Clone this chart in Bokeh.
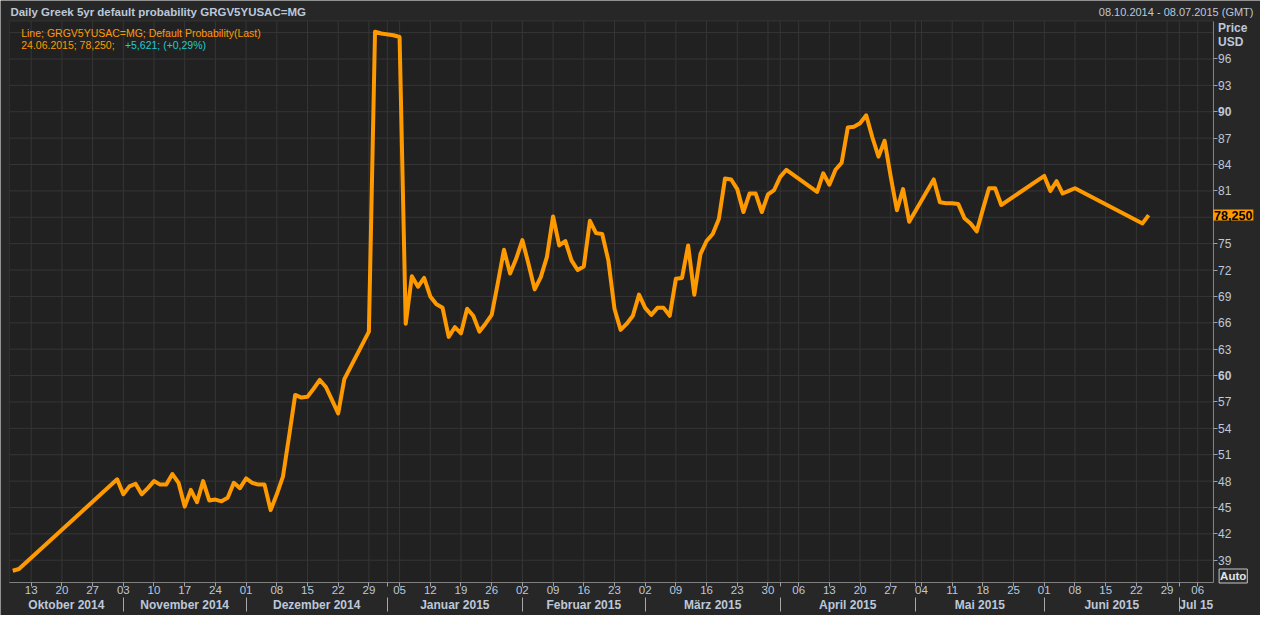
import numpy as np
import pandas as pd
from bokeh.plotting import figure
from bokeh.models import FixedTicker, Label, Range1d, LinearAxis, BoxAnnotation
from bokeh.embed import file_html
from bokeh.resources import INLINE

# ---------------- data ----------------
dates = [
    "2014-10-08", "2014-10-09", "2014-10-31",
    "2014-11-03", "2014-11-04", "2014-11-05", "2014-11-06", "2014-11-07",
    "2014-11-10", "2014-11-11", "2014-11-12", "2014-11-13", "2014-11-14",
    "2014-11-17", "2014-11-18", "2014-11-19", "2014-11-20", "2014-11-21",
    "2014-11-24", "2014-11-25", "2014-11-26", "2014-11-27", "2014-11-28",
    "2014-12-01", "2014-12-02", "2014-12-03", "2014-12-04", "2014-12-05",
    "2014-12-08", "2014-12-09", "2014-12-10", "2014-12-11", "2014-12-12",
    "2014-12-15", "2014-12-16", "2014-12-17", "2014-12-18", "2014-12-19",
    "2014-12-22", "2014-12-23", "2014-12-29", "2014-12-30", "2014-12-31",
    "2015-01-02", "2015-01-05", "2015-01-06", "2015-01-07", "2015-01-08",
    "2015-01-09", "2015-01-12", "2015-01-13", "2015-01-14", "2015-01-15",
    "2015-01-16", "2015-01-19", "2015-01-20", "2015-01-21", "2015-01-22",
    "2015-01-23", "2015-01-26", "2015-01-27", "2015-01-28", "2015-01-29",
    "2015-01-30", "2015-02-02", "2015-02-03", "2015-02-04", "2015-02-05",
    "2015-02-06", "2015-02-09", "2015-02-10", "2015-02-11", "2015-02-12",
    "2015-02-13", "2015-02-16", "2015-02-17", "2015-02-18", "2015-02-19",
    "2015-02-20", "2015-02-23", "2015-02-24", "2015-02-25", "2015-02-26",
    "2015-02-27", "2015-03-02", "2015-03-03", "2015-03-04", "2015-03-05",
    "2015-03-06", "2015-03-09", "2015-03-10", "2015-03-11", "2015-03-12",
    "2015-03-13", "2015-03-16", "2015-03-17", "2015-03-18", "2015-03-19",
    "2015-03-20", "2015-03-23", "2015-03-24", "2015-03-25", "2015-03-26",
    "2015-03-27", "2015-03-30", "2015-03-31", "2015-04-01", "2015-04-02",
    "2015-04-09", "2015-04-10", "2015-04-13", "2015-04-14", "2015-04-15",
    "2015-04-16", "2015-04-17", "2015-04-20", "2015-04-21", "2015-04-22",
    "2015-04-23", "2015-04-24", "2015-04-27", "2015-04-28", "2015-04-29",
    "2015-04-30", "2015-05-06", "2015-05-07", "2015-05-08", "2015-05-11",
    "2015-05-12", "2015-05-13", "2015-05-14", "2015-05-15", "2015-05-18",
    "2015-05-19", "2015-05-20", "2015-05-21", "2015-06-01", "2015-06-02",
    "2015-06-03", "2015-06-04", "2015-06-05", "2015-06-08", "2015-06-23",
    "2015-06-24",
]
values = [
    37.8, 38.0, 48.2,
    46.5, 47.4, 47.7, 46.5, 47.2,
    48.0, 47.6, 47.6, 48.8, 47.8,
    45.1, 47.0, 45.6, 48.0, 45.8,
    45.9, 45.7, 46.1, 47.8, 47.2,
    48.3, 47.8, 47.6, 47.6, 44.7,
    46.5, 48.5, 53.1, 57.8, 57.5,
    57.6, 58.5, 59.5, 58.7, 57.2,
    55.7, 59.6, 65.0, 99.1, 98.9,
    98.7, 98.5, 65.9, 71.3, 70.1,
    71.1, 69.0, 68.1, 67.7, 64.4,
    65.5, 64.8, 67.6, 66.8, 65.0,
    65.9, 66.9, 70.5, 74.3, 71.6,
    73.3, 75.4, 72.7, 69.8, 71.2,
    73.5, 78.1, 74.8, 75.3, 73.1,
    72.0, 72.4, 77.6, 76.2, 76.1,
    73.1, 67.6, 65.2, 65.9, 66.8,
    69.2, 67.7, 66.9, 67.7, 67.7,
    66.8, 71.0, 71.1, 74.8, 69.2,
    73.8, 75.3, 76.1, 77.8, 82.4,
    82.3, 81.2, 78.6, 80.7, 80.7,
    78.6, 80.6, 81.1, 82.6, 83.4,
    80.9, 83.0, 81.7, 83.4, 84.2,
    88.2, 88.3, 88.7, 89.6, 87.1,
    84.9, 86.7, 82.6, 78.8, 81.2,
    77.5, 82.3, 79.7, 79.6, 79.6,
    79.5, 77.9, 77.3, 76.4, 78.9,
    81.3, 81.3, 79.4, 82.7, 81.0,
    82.1, 80.7, 81.0, 81.3, 77.3,
    78.25,
]

y_ticks = [39, 42, 45, 48, 51, 54, 57, 60, 63, 66, 69, 72, 75, 81, 84, 87, 90, 93, 96]
y_grid = list(range(39, 100, 3))
bold_y = [60, 90]

month_firsts = ["2014-11-01", "2014-12-01", "2015-01-01", "2015-02-01", "2015-03-01",
                "2015-04-01", "2015-05-01", "2015-06-01", "2015-07-01"]
month_names = ["Oktober 2014", "November 2014", "Dezember 2014", "Januar 2015", "Februar 2015",
               "März 2015", "April 2015", "Mai 2015", "Juni 2015", "Jul 15"]

title_text = "Daily Greek 5yr default probability GRGV5YUSAC=MG"
range_text = "08.10.2014 - 08.07.2015 (GMT)"
legend_line1 = "Line; GRGV5YUSAC=MG; Default Probability(Last)"
legend_line2a = "24.06.2015; 78,250;"
legend_line2b = "+5,621; (+0,29%)"
last_label = "78,250"
last_value = 78.25

START, END = "2014-10-08", "2015-07-08"
FIRST_MONDAY, LAST_MONDAY = "2014-10-13", "2015-07-06"

# ---------------- trading-day axis helpers ----------------
def tidx(d):
    return int(np.busday_count(START, d))

xs = [tidx(d) for d in dates]
mondays = pd.date_range(FIRST_MONDAY, LAST_MONDAY, freq="W-MON")
monday_idx = [tidx(d.strftime("%Y-%m-%d")) for d in mondays]
sep_idx = [int(np.busday_count(START, np.busday_offset(m, 0, roll="forward"))) for m in month_firsts]

XMIN, XMAX = -0.55, tidx(END) + 0.5
YMIN, YMAX = 36.48, 100.32

x_ticks = sorted(set(monday_idx) | set(sep_idx))
x_overrides = {t: "" for t in x_ticks}
for i, d in zip(monday_idx, mondays):
    x_overrides[i] = f"{d.day:02d}"

bounds = [XMIN] + sep_idx + [XMAX]
month_centers = [round((bounds[k] + bounds[k + 1]) / 2, 2) for k in range(len(month_names))]

# ---------------- layout (pixels) ----------------
W, H = 1260, 615
PL, PR, PT, PB = 8.9, 1212.6, 20.5, 581.9      # plot-area box inside the canvas
kx = (PR - PL) / (XMAX - XMIN)
ky = (PB - PT) / (YMAX - YMIN)
x_lo, x_hi = XMIN - PL / kx, XMAX + (W - PR) / kx
y_lo, y_hi = YMIN - (H - PB) / ky, YMAX + PT / ky
month_axis_y = YMIN - 10.0 / ky
sep_axis_y = YMIN - 15.5 / ky

# ---------------- styling ----------------
FONT = "Liberation Sans"
TXT = "#bcc8da"
ORANGE = "#ff9900"
CYAN = "#22c8d2"
BG = "#212121"
BORDER = "#272727"
GRID = "#363636"
AXIS = "#808080"

p = figure(width=W, height=H, x_range=Range1d(x_lo, x_hi), y_range=Range1d(y_lo, y_hi),
           output_backend="svg", toolbar_location=None, title=None,
           x_axis_location=None, y_axis_location=None,
           min_border=0, min_border_left=0, min_border_right=0, min_border_top=0, min_border_bottom=0)
p.background_fill_color = BORDER
p.border_fill_color = BORDER
p.outline_line_color = None
p.grid.visible = False

# plot area
p.add_layout(BoxAnnotation(left=XMIN, right=XMAX, bottom=YMIN, top=YMAX, fill_color=BG, fill_alpha=1.0,
                           line_color="#555555", line_width=1, level="underlay"))

# grid lines from the tick lists
p.segment(x0=x_ticks, x1=x_ticks, y0=[YMIN] * len(x_ticks), y1=[YMAX] * len(x_ticks),
          line_color=GRID, line_width=1)
p.segment(x0=[XMIN] * len(y_grid), x1=[XMAX] * len(y_grid), y0=y_grid, y1=y_grid,
          line_color=GRID, line_width=1)

# the series
p.line(xs, values, line_color=ORANGE, line_width=4, line_join="round")

# x axis (day numbers) at the bottom of the plot area
xa = LinearAxis(fixed_location=YMIN, bounds=(XMIN, XMAX), ticker=FixedTicker(ticks=x_ticks),
                major_label_overrides=x_overrides)
xa.major_tick_out = 4
xa.major_tick_in = 0
xa.minor_tick_line_color = None
xa.major_tick_line_color = "#a0a0a0"
xa.axis_line_color = AXIS
xa.major_label_standoff = 0
xa.major_label_text_color = TXT
xa.major_label_text_font = FONT
xa.major_label_text_font_size = "11.5px"
p.add_layout(xa, "below")

# month separators
sa = LinearAxis(fixed_location=sep_axis_y, bounds=(XMIN, XMAX), ticker=FixedTicker(ticks=sep_idx),
                major_label_overrides={s: "" for s in sep_idx})
sa.axis_line_color = None
sa.major_tick_line_color = "#a8a8a8"
sa.major_tick_in = 0
sa.major_tick_out = 14
sa.minor_tick_line_color = None
p.add_layout(sa, "below")

# month names
ma = LinearAxis(fixed_location=month_axis_y, bounds=(XMIN, XMAX), ticker=FixedTicker(ticks=month_centers),
                major_label_overrides={c: n for c, n in zip(month_centers, month_names)})
ma.axis_line_color = None
ma.major_tick_line_color = None
ma.minor_tick_line_color = None
ma.major_label_standoff = 0
ma.major_label_text_color = TXT
ma.major_label_text_font = FONT
ma.major_label_text_font_size = "12px"
ma.major_label_text_font_style = "bold"
p.add_layout(ma, "below")

# y axis on the right edge of the plot area
ya = LinearAxis(fixed_location=XMAX, bounds=(YMIN, YMAX), ticker=FixedTicker(ticks=y_ticks))
ya.major_tick_out = 4
ya.major_tick_in = 0
ya.minor_tick_line_color = None
ya.major_tick_line_color = "#a0a0a0"
ya.axis_line_color = AXIS
ya.major_label_standoff = 1
ya.major_label_text_color = TXT
ya.major_label_text_font = FONT
ya.major_label_text_font_size = "12px"
p.add_layout(ya, "right")

lab = dict(text_font=FONT, text_baseline="middle", text_align="left")

# bold 60 / 90 over the axis labels
for v in bold_y:
    p.add_layout(Label(x=XMAX, y=v, x_offset=5, text=str(v), text_font_size="12px",
                       text_font_style="bold", text_color=TXT, background_fill_color=BORDER, **lab))

# header texts
p.add_layout(Label(x=XMIN, y=YMAX, x_offset=1, y_offset=8.8, text=title_text, text_font_size="11.5px",
                   text_font_style="bold", text_color=TXT, **lab))
p.add_layout(Label(x=XMAX, y=YMAX, x_offset=40.4, y_offset=8.8, text=range_text, text_font_size="11px",
                   text_color=TXT, text_font=FONT, text_baseline="middle", text_align="right"))
p.add_layout(Label(x=XMAX, y=YMAX, x_offset=5, y_offset=-6.8, text="Price", text_font_size="12px",
                   text_font_style="bold", text_color=TXT, **lab))
p.add_layout(Label(x=XMAX, y=YMAX, x_offset=5, y_offset=-21.4, text="USD", text_font_size="12px",
                   text_font_style="bold", text_color=TXT, **lab))

# legend block in the plot
p.add_layout(Label(x=XMIN, y=YMAX, x_offset=11.8, y_offset=-11.7, text=legend_line1, text_font_size="10.5px",
                   text_color=ORANGE, **lab))
p.add_layout(Label(x=XMIN, y=YMAX, x_offset=11.8, y_offset=-24.3, text=legend_line2a, text_font_size="10.5px",
                   text_color=ORANGE, **lab))
p.add_layout(Label(x=XMIN, y=YMAX, x_offset=115.5, y_offset=-24.3, text=legend_line2b, text_font_size="10.5px",
                   text_color=CYAN, **lab))

# last value tag and Auto box
p.add_layout(Label(x=XMAX, y=last_value, x_offset=0, text=last_label, text_font_size="12.5px",
                   text_font_style="bold", text_color="#000000", background_fill_color=ORANGE,
                   padding=1, **lab))
p.add_layout(Label(x=XMAX, y=YMIN, x_offset=6, y_offset=6.4, text="Auto", text_font_size="11.5px",
                   text_font_style="bold", text_color="#e0e4ea", border_line_color="#c8c8c8",
                   background_fill_color="#2a2a2a", padding=1, **lab))

open("out.html", "w").write(file_html(p, INLINE))
